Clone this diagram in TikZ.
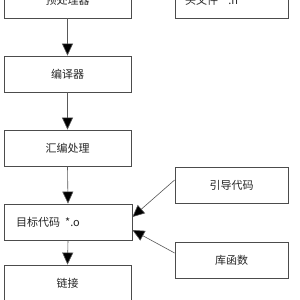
\documentclass[tikz,border=0pt]{standalone}
\usepackage{fontspec}
\setmainfont{Noto Sans CJK SC}
\usetikzlibrary{arrows.meta}
\begin{document}
\begin{tikzpicture}[x=1pt,y=-1pt,
  box/.style={draw=black!70,line width=0.8pt,minimum width=127pt,minimum height=36pt,inner sep=0pt,font=\fontsize{11}{13}\selectfont,text=black!85},
  sbox/.style={box,minimum width=113pt},
  flow/.style={draw=black!65,line width=0.6pt,-{Triangle[length=12pt,width=11pt,fill=black]}}]
\useasboundingbox (0,0) rectangle (300,300);
\clip (0,0) rectangle (300,300);
\fill[white] (0,0) rectangle (300,300);
\node[box] (pre) at (67.5,0) {预处理器};
\node[box] (enc) at (67.5,74) {编译器};
\node[box] (asm) at (67.5,148) {汇编处理};
\node[box,minimum width=128pt] (obj) at (68,222) {};
\node[anchor=west,inner sep=0pt,font=\fontsize{11}{13}\selectfont,text=black!85] (objt) at (16,222) {目标代码\ \ *.o};
\node[box] (link) at (67.5,283) {链接};
\node[sbox] (hdr) at (231.5,0) {};
\node[anchor=west,inner sep=0pt,font=\fontsize{11}{13}\selectfont,text=black!85] (hdrt) at (185,0) {头文件\ \ *.h};
\node[sbox] (boot) at (231.5,185) {引导代码};
\node[sbox] (lib) at (231.5,260) {库函数};
\draw[flow] (pre.south) -- (enc.north);
\draw[flow] (enc.south) -- (asm.north);
\draw[flow] (asm.south) -- (obj.north);
\draw[flow] (obj.south) -- (link.north);
\draw[flow] ([yshift=5pt]boot.west) -- ([yshift=5pt]obj.east);
\draw[flow] ([yshift=7pt]lib.west) -- ([yshift=-8pt]obj.east);
\end{tikzpicture}
\end{document}
